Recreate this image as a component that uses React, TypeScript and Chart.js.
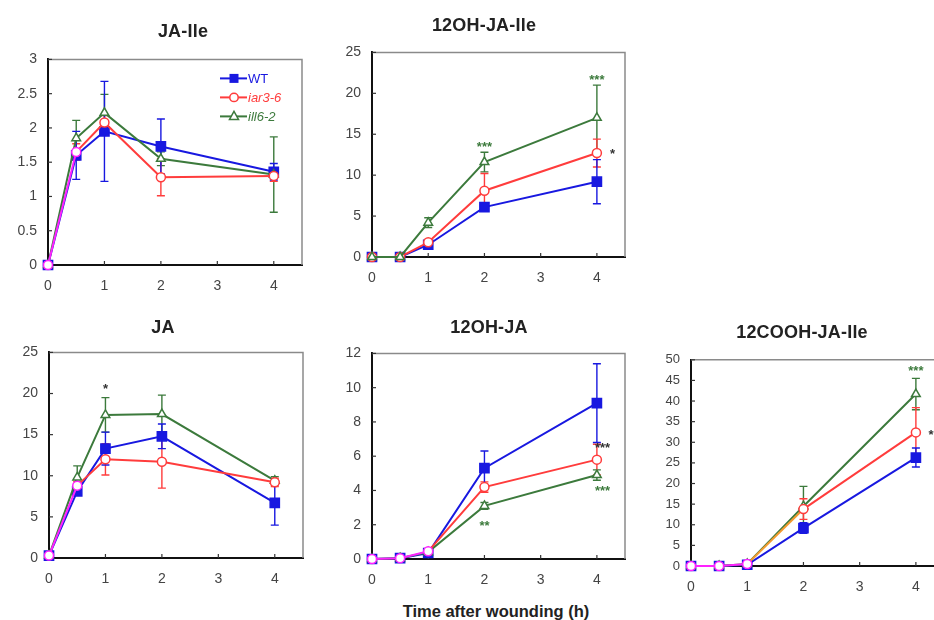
import React, { useEffect, useRef } from 'react';
import { Chart, registerables } from 'chart.js';
Chart.register(...registerables);

// ---------- data ----------
const TIMES = [0, 0.5, 1, 2, 4];
const SERIES_NAMES = ['WT', 'iar3-6', 'ill6-2'];
const X_AXIS_TITLE = 'Time after wounding (h)';

// JA-Ile
const jaIleWT = [0, 1.6, 1.95, 1.73, 1.36];
const jaIleWTErr = [0, 0.35, 0.73, 0.4, 0.12];
const jaIleIar = [0, 1.65, 2.08, 1.28, 1.3];
const jaIleIarErr = [0, 0.12, 0.1, 0.27, 0.08];
const jaIleIll = [0, 1.85, 2.22, 1.55, 1.32];
const jaIleIllErr = [0, 0.26, 0.27, 0.1, 0.55];

// 12OH-JA-Ile
const ohJaIleWT = [0, 0, 1.5, 6.1, 9.2];
const ohJaIleWTErr = [0, 0, 0.3, 0.4, 2.7];
const ohJaIleIar = [0, 0, 1.8, 8.1, 12.7];
const ohJaIleIarErr = [0, 0, 0.3, 2.1, 1.7];
const ohJaIleIll = [0, 0, 4.2, 11.6, 17.0];
const ohJaIleIllErr = [0, 0, 0.6, 1.2, 4.0];

// JA
const jaWT = [0.3, 8.1, 13.3, 14.8, 6.7];
const jaWTErr = [0.2, 0.4, 2.0, 1.5, 2.7];
const jaIar = [0.3, 8.8, 12.0, 11.7, 9.2];
const jaIarErr = [0.2, 0.5, 1.9, 3.2, 0.5];
const jaIll = [0.3, 9.8, 17.4, 17.5, 9.4];
const jaIllErr = [0.2, 1.4, 2.1, 2.3, 0.5];

// 12OH-JA
const ohJaWT = [0, 0.05, 0.35, 5.3, 9.1];
const ohJaWTErr = [0, 0, 0.1, 1.0, 2.3];
const ohJaIar = [0, 0.05, 0.45, 4.2, 5.8];
const ohJaIarErr = [0, 0, 0.1, 0.3, 0.9];
const ohJaIll = [0, 0.05, 0.4, 3.1, 4.9];
const ohJaIllErr = [0, 0, 0.1, 0.2, 0.3];

// 12COOH-JA-Ile
const coohWT = [0, 0, 0.3, 9.2, 26.3];
const coohWTErr = [0, 0, 0.2, 1.3, 2.3];
const coohIar = [0, 0, 0.5, 13.8, 32.4];
const coohIarErr = [0, 0, 0.2, 2.5, 6.0];
const coohIll = [0, 0, 0.5, 14.5, 41.7];
const coohIllErr = [0, 0, 0.2, 4.8, 3.8];

// significance marks: [x, y, text, kind]
const jaIleNotes: [number, number, string, string][] = [];
const ohJaIleNotes: [number, number, string, string][] = [
  [2, 13.7, '***', 'g'], [4, 22, '***', 'g'], [4.28, 12.9, '*', 'k'],
];
const jaNotes: [number, number, string, string][] = [[1, 20.9, '*', 'k']];
const ohJaNotes: [number, number, string, string][] = [
  [2, 2.1, '**', 'g'], [4.1, 6.65, '***', 'k'], [4.1, 4.1, '***', 'g'],
];
const coohNotes: [number, number, string, string][] = [
  [4, 48, '***', 'g'], [4.27, 32.4, '*', 'k'],
];

// ---------- styles ----------
const BLUE = '#1818e0';
const RED = '#ff3c3c';
const GREEN = '#3c7a3c';
const MAGENTA = '#ff22ff';
const ORANGE = '#f29a30';
const FONT = '"Liberation Sans", Arial, sans-serif';
const PADL = 50, PADT = 14, PADR = 14, PADB = 40;

type Box = { l: number; t: number; r: number; b: number };
type Cfg = {
  title: string; titleX: number; titleY: number; box: Box;
  yMax: number; yStep: number; yFont: number;
  wt: number[]; wtErr: number[]; iar: number[]; iarErr: number[]; ill: number[]; illErr: number[];
  notes: [number, number, string, string][];
  magentaUntil: number; orangeUntil: number; greenTop: boolean; legend: boolean;
};

const PANELS: Cfg[] = [
  { title: 'JA-Ile', titleX: 183, titleY: 31, box: { l: 48, t: 54, r: 302, b: 265 }, yMax: 3, yStep: 0.5, yFont: 14,
    wt: jaIleWT, wtErr: jaIleWTErr, iar: jaIleIar, iarErr: jaIleIarErr, ill: jaIleIll, illErr: jaIleIllErr,
    notes: jaIleNotes, magentaUntil: 0.5, orangeUntil: -1, greenTop: false, legend: true },
  { title: '12OH-JA-Ile', titleX: 484, titleY: 25, box: { l: 372, t: 47, r: 625, b: 257 }, yMax: 25, yStep: 5, yFont: 14,
    wt: ohJaIleWT, wtErr: ohJaIleWTErr, iar: ohJaIleIar, iarErr: ohJaIleIarErr, ill: ohJaIleIll, illErr: ohJaIleIllErr,
    notes: ohJaIleNotes, magentaUntil: -1, orangeUntil: -1, greenTop: true, legend: false },
  { title: 'JA', titleX: 163, titleY: 327, box: { l: 49, t: 347, r: 303, b: 558 }, yMax: 25, yStep: 5, yFont: 14,
    wt: jaWT, wtErr: jaWTErr, iar: jaIar, iarErr: jaIarErr, ill: jaIll, illErr: jaIllErr,
    notes: jaNotes, magentaUntil: 0.5, orangeUntil: -1, greenTop: false, legend: false },
  { title: '12OH-JA', titleX: 489, titleY: 327, box: { l: 372, t: 348, r: 625, b: 559 }, yMax: 12, yStep: 2, yFont: 14,
    wt: ohJaWT, wtErr: ohJaWTErr, iar: ohJaIar, iarErr: ohJaIarErr, ill: ohJaIll, illErr: ohJaIllErr,
    notes: ohJaNotes, magentaUntil: 1, orangeUntil: -1, greenTop: false, legend: false },
  { title: '12COOH-JA-Ile', titleX: 802, titleY: 332, box: { l: 691, t: 355, r: 944, b: 566 }, yMax: 50, yStep: 5, yFont: 13,
    wt: coohWT, wtErr: coohWTErr, iar: coohIar, iarErr: coohIarErr, ill: coohIll, illErr: coohIllErr,
    notes: coohNotes, magentaUntil: 1, orangeUntil: 2, greenTop: false, legend: false },
];

const framePlugin = {
  id: 'frame',
  beforeDatasetsDraw(chart: any) {
    const { ctx, chartArea } = chart;
    const { left, top, right, bottom } = chartArea;
    ctx.save();
    ctx.strokeStyle = '#8a8a8a';
    ctx.lineWidth = 1.5;
    ctx.beginPath();
    ctx.moveTo(left, top);
    ctx.lineTo(right, top);
    ctx.lineTo(right, bottom);
    ctx.stroke();
    ctx.strokeStyle = '#333';
    ctx.lineWidth = 1.2;
    const xs = chart.scales.x, ys = chart.scales.y;
    xs.ticks.forEach((t: any) => {
      const px = xs.getPixelForValue(t.value);
      ctx.beginPath(); ctx.moveTo(px, bottom); ctx.lineTo(px, bottom - 4); ctx.stroke();
    });
    ys.ticks.forEach((t: any) => {
      const py = ys.getPixelForValue(t.value);
      ctx.beginPath(); ctx.moveTo(left, py); ctx.lineTo(left + 4, py); ctx.stroke();
    });
    // error bars
    const datasets = chart.data.datasets;
    for (let di = datasets.length - 1; di >= 0; di--) {
      const ds = datasets[di];
      const meta = chart.getDatasetMeta(di);
      ctx.strokeStyle = ds.errColor;
      ctx.lineWidth = 1.4;
      ds.errors.forEach((e: number, i: number) => {
        if (!e) return;
        const px = meta.data[i].x;
        const v = ds.data[i].y;
        const y1 = ys.getPixelForValue(v + e);
        const y2 = ys.getPixelForValue(Math.max(0, v - e));
        ctx.beginPath();
        ctx.moveTo(px, y1); ctx.lineTo(px, y2);
        ctx.moveTo(px - 4, y1); ctx.lineTo(px + 4, y1);
        ctx.moveTo(px - 4, y2); ctx.lineTo(px + 4, y2);
        ctx.stroke();
      });
    }
    ctx.restore();
  },
  afterDatasetsDraw(chart: any, _args: any, opts: any) {
    const { ctx, chartArea } = chart;
    const xs = chart.scales.x, ys = chart.scales.y;
    ctx.save();
    ctx.textAlign = 'center';
    ctx.textBaseline = 'middle';
    ctx.font = `bold 13px ${FONT}`;
    (opts.notes || []).forEach((n: [number, number, string, string]) => {
      ctx.fillStyle = n[3] === 'g' ? GREEN : '#333';
      ctx.fillText(n[2], xs.getPixelForValue(n[0]), ys.getPixelForValue(n[1]) + 3);
    });
    if (opts.legend) {
      const { right, top } = chartArea;
      const rows = [
        { name: SERIES_NAMES[0], color: BLUE, style: 'rect', fill: BLUE, italic: false, dy: 19 },
        { name: SERIES_NAMES[1], color: RED, style: 'circle', fill: '#fff', italic: true, dy: 38 },
        { name: SERIES_NAMES[2], color: GREEN, style: 'triangle', fill: '#fff', italic: true, dy: 57 },
      ];
      rows.forEach((r) => {
        const y = top + r.dy;
        ctx.strokeStyle = r.color;
        ctx.lineWidth = 2;
        ctx.beginPath(); ctx.moveTo(right - 82, y); ctx.lineTo(right - 55, y); ctx.stroke();
        ctx.fillStyle = r.fill;
        ctx.lineWidth = 1.5;
        ctx.beginPath();
        const cx = right - 68;
        if (r.style === 'rect') {
          ctx.rect(cx - 4.5, y - 4.5, 9, 9); ctx.fill();
        } else if (r.style === 'circle') {
          ctx.arc(cx, y, 4.2, 0, Math.PI * 2); ctx.fill(); ctx.stroke();
        } else {
          ctx.moveTo(cx, y - 5); ctx.lineTo(cx + 4.5, y + 3); ctx.lineTo(cx - 4.5, y + 3); ctx.closePath(); ctx.fill(); ctx.stroke();
        }
        ctx.fillStyle = r.color;
        ctx.font = `${r.italic ? 'italic ' : ''}13px ${FONT}`;
        ctx.textAlign = 'left';
        ctx.fillText(r.name, right - 54, y + 1);
      });
    }
    ctx.restore();
  },
};

function Panel({ cfg }: { cfg: Cfg }) {
  const ref = useRef<HTMLCanvasElement | null>(null);
  const { box } = cfg;
  const w = box.r - box.l + PADL + PADR;
  const h = box.b - box.t + PADT + PADB;
  useEffect(() => {
    if (!ref.current) return;
    const pts = (arr: number[]) => TIMES.map((x, i) => ({ x, y: arr[i] }));
    const redBorder = (ctx: any) => {
      const t = TIMES[ctx.dataIndex];
      return t <= cfg.magentaUntil ? MAGENTA : RED;
    };
    const redSeg = (ctx: any) => {
      const t = TIMES[ctx.p1DataIndex];
      if (t <= cfg.magentaUntil) return MAGENTA;
      if (t <= cfg.orangeUntil) return ORANGE;
      return undefined;
    };
    const base = { borderWidth: 2, pointBorderWidth: 1.5, clip: false, tension: 0 } as any;
    const wt = { ...base, label: SERIES_NAMES[0], data: pts(cfg.wt), errors: cfg.wtErr, errColor: BLUE,
      borderColor: BLUE, backgroundColor: BLUE, pointBackgroundColor: BLUE, pointBorderColor: BLUE,
      pointStyle: 'rect', pointRadius: 6.5, order: 3 };
    const iar = { ...base, label: SERIES_NAMES[1], data: pts(cfg.iar), errors: cfg.iarErr, errColor: RED,
      borderColor: RED, backgroundColor: '#fff', pointBackgroundColor: '#fff', pointBorderColor: redBorder,
      pointStyle: 'circle', pointRadius: 4.5, segment: { borderColor: redSeg }, order: cfg.greenTop ? 2 : 1 };
    const ill = { ...base, label: SERIES_NAMES[2], data: pts(cfg.ill), errors: cfg.illErr, errColor: GREEN,
      borderColor: GREEN, backgroundColor: '#fff', pointBackgroundColor: '#fff', pointBorderColor: GREEN,
      pointStyle: 'triangle', pointRadius: 5, order: cfg.greenTop ? 1 : 2 };
    const axisBase = {
      grid: { display: false, drawTicks: false },
      border: { display: true, color: '#111', width: 2 },
    };
    const chart = new Chart(ref.current, {
      type: 'line',
      data: { datasets: [wt, iar, ill] as any },
      options: {
        responsive: false,
        animation: false,
        devicePixelRatio: 1,
        layout: { padding: { left: 0, top: PADT, right: PADR, bottom: 0 } },
        plugins: {
          legend: { display: false },
          tooltip: { enabled: false },
          frame: { notes: cfg.notes, legend: cfg.legend },
        } as any,
        scales: {
          x: {
            ...axisBase,
            type: 'linear', min: 0, max: 4.5,
            afterFit: (s: any) => { s.height = PADB; },
            ticks: { stepSize: 1, includeBounds: false, padding: 13, color: '#444',
              font: { size: 14, family: FONT }, callback: (v: any) => String(v) },
          },
          y: {
            ...axisBase,
            min: 0, max: cfg.yMax,
            afterFit: (s: any) => { s.width = PADL; },
            ticks: { stepSize: cfg.yStep, padding: 11, color: '#444',
              font: { size: cfg.yFont, family: FONT }, callback: (v: any) => String(v) },
          },
        } as any,
      },
      plugins: [framePlugin],
    });
    return () => chart.destroy();
  }, []);
  return (
    <>
      <canvas ref={ref} width={w} height={h}
        style={{ position: 'absolute', left: box.l - PADL, top: box.t - PADT, width: w, height: h }} />
      <div style={{ position: 'absolute', left: cfg.titleX, top: cfg.titleY, transform: 'translate(-50%, -50%)',
        font: `bold 18px ${FONT}`, color: '#222', whiteSpace: 'nowrap', letterSpacing: '0.2px' }}>{cfg.title}</div>
    </>
  );
}

export default function App() {
  return (
    <div style={{ position: 'absolute', left: 0, top: 0, width: 934, height: 620, overflow: 'hidden', background: '#fff' }}>
      {PANELS.map((p, i) => <Panel key={i} cfg={p} />)}
      <div style={{ position: 'absolute', left: 496, top: 611, transform: 'translate(-50%, -50%)',
        font: `bold 16.5px ${FONT}`, color: '#222', whiteSpace: 'nowrap' }}>{X_AXIS_TITLE}</div>
    </div>
  );
}
